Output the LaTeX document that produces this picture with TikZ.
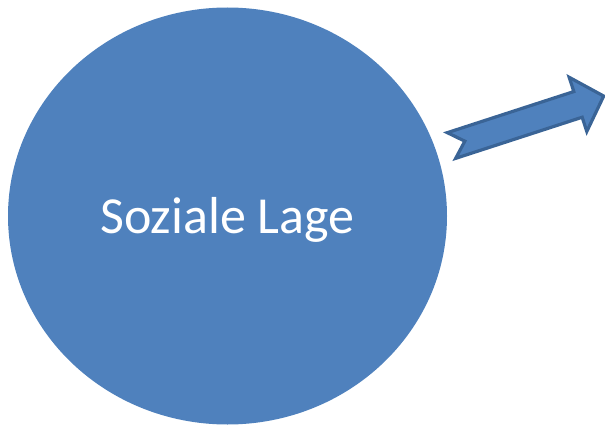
\documentclass[tikz,border=0pt]{standalone}
\usepackage{fontspec}
\setmainfont{Carlito}
\definecolor{accentblue}{HTML}{4F81BD}
\definecolor{edgeblue}{HTML}{3A6496}
\tikzset{
  blob/.style={fill=accentblue, draw=none},
  fatarrow/.style={fill=accentblue, draw=edgeblue, line width=3.2pt, line join=miter},
  label/.style={text=white, font=\fontsize{52}{60}\selectfont, inner sep=0pt}
}
\begin{document}
\begin{tikzpicture}[x=1pt, y=-1pt]
  \useasboundingbox (0,0) rectangle (605,425);
  % the large ellipse with its title
  \fill[blob] (227.5,216) ellipse [x radius=219.5, y radius=208.5];
  \coordinate (c) at (227.5,216);
  \node[label, anchor=base] (title) at (227.5,233) {Soziale Lage};
  % block arrow with notched tail, pointing up to the right
  \begin{scope}[shift={(451.5,145.5)}, rotate=18]
    \draw[fatarrow] (0,-13.5) -- (133,-13.5) -- (133,-28.5) -- (160,0)
      -- (133,28.5) -- (133,13.5) -- (0,13.5) -- (14,0) -- cycle;
  \end{scope}
\end{tikzpicture}
\end{document}
